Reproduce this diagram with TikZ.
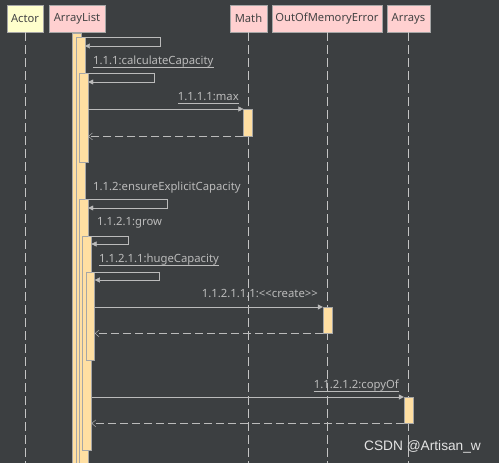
\documentclass[tikz,border=0pt]{standalone}
\usepackage{fontspec}
\setmainfont{Noto Sans}
\newfontfamily\markfont{Liberation Sans}
\usetikzlibrary{arrows.meta}
\definecolor{bgdark}{HTML}{3C3F41}
\definecolor{headpink}{HTML}{FFD0D0}
\definecolor{actoryellow}{HTML}{FFFFCC}
\definecolor{boxgray}{HTML}{A6A6A6}
\definecolor{headtext}{HTML}{444444}
\definecolor{barfill}{HTML}{FFDFA2}
\definecolor{lineclr}{HTML}{BBBBBB}
\definecolor{lifeclr}{HTML}{C4C4C4}
\definecolor{wmark}{HTML}{E4E4E4}

\begin{document}
\begin{tikzpicture}
 		[
 		x = 1pt, y = -1pt,
 		head/.style = {draw = boxgray, fill = headpink, text = headtext, minimum height = 27pt, inner sep = 0pt, font = \fontsize{11.2}{13}\selectfont},
 		life/.style = {draw = lifeclr, dash pattern = on 9pt off 4pt},
 		bar/.style = {draw = boxgray, fill = barfill, minimum width = 8.8pt, inner sep = 0pt, anchor = north},
 		call/.style = {draw = lineclr, -{Triangle[length = 5pt, width = 5pt]}},
 		back/.style = {draw = lineclr, dash pattern = on 8pt off 4pt, -{Straight Barb[length = 4pt, width = 7pt]}},
 		msg/.style = {text = lineclr, inner sep = 0pt, font = \fontsize{11.3}{13}\selectfont}
 		]
 		
 		\path [use as bounding box, fill = bgdark] (0,0) rectangle (499,463);
 		\clip (0,0) rectangle (499,463);
 		\coordinate (floor) at (0,475);
 		
 		\node [head, fill = actoryellow, minimum width = 36pt] (actor) at (25,18.5) {Actor};
 		\node [head, minimum width = 56pt] (arraylist) at (77,18.5) {ArrayList};
 		\node [head, minimum width = 37pt] (math) at (248.5,18.5) {Math};
 		\node [head, minimum width = 110pt] (oome) at (327,18.5) {OutOfMemoryError};
 		\node [head, minimum width = 43pt] (arrays) at (408.5,18.5) {Arrays};
 		
 		\draw [life] (actor) -- (actor |- floor);
 		\draw [life] (math) -- (math |- floor);
 		\draw [life] (oome) -- (oome |- floor);
 		\draw [life] (arrays) -- (arrays |- floor);
 		
 		\node [bar, minimum height = 450pt] (a1) at (77,33) {};
 		\node [bar, minimum height = 450pt] (a2) at (80.3,37) {};
 		\node [bar, minimum height = 89pt] (a3) at (83.6,73) {};
 		\node [bar, minimum height = 300pt] (a3b) at (83.6,199) {};
 		\node [bar, minimum height = 214pt] (a4) at (86.9,236) {};
 		\node [bar, minimum height = 88pt] (a5) at (90.2,272) {};
 		\node [bar, minimum height = 27pt] (m1) at (248,109) {};
 		\node [bar, minimum height = 26pt] (o1) at (327.5,307) {};
 		\node [bar, minimum height = 26pt] (r1) at (408.5,397) {};
 		
 		\coordinate (t1) at (160,46);
 		\draw [call] (a2.north -| a1.east) -| (t1) -- (t1 -| a2.east);
 		
 		\node [msg, anchor = base west] (l2) at (93,64) {1.1.1:calculateCapacity};
 		\draw [lineclr] ([yshift = -3pt]l2.base west) -- ([yshift = -3pt]l2.base east);
 		\coordinate (t2) at (154,82);
 		\draw [call] (a3.north -| a2.east) -| (t2) -- (t2 -| a3.east);
 		
 		\node [msg, anchor = base east] (l3) at (239,100) {1.1.1.1:max};
 		\draw [lineclr] ([yshift = -3pt]l3.base west) -- ([yshift = -3pt]l3.base east);
 		\draw [call] (m1.north west -| a3.east) -- (m1.north west);
 		\draw [back] (m1.south west) -- (m1.south west -| a3.east);
 		
 		\node [msg, anchor = base west] (l4) at (93,190) {1.1.2:ensureExplicitCapacity};
 		\coordinate (t4) at (167,208);
 		\draw [call] (a3b.north -| a2.east) -| (t4) -- (t4 -| a3b.east);
 		
 		\node [msg, anchor = base west] (l5) at (97,225) {1.1.2.1:grow};
 		\coordinate (t5) at (128,244);
 		\draw [call] (a4.north -| a3b.east) -| (t5) -- (t5 -| a4.east);
 		
 		\node [msg, anchor = base west] (l6) at (99,262) {1.1.2.1.1:hugeCapacity};
 		\draw [lineclr] ([yshift = -3pt]l6.base west) -- ([yshift = -3pt]l6.base east);
 		\coordinate (t6) at (159,280);
 		\draw [call] (a5.north -| a4.east) -| (t6) -- (t6 -| a5.east);
 		
 		\node [msg, anchor = base east] (l7) at (318,297.5) {1.1.2.1.1.1:{<}{<}create{>}{>}};
 		\draw [call] (o1.north west -| a5.east) -- (o1.north west);
 		\draw [back] (o1.south west) -- (o1.south west -| a5.east);
 		
 		\node [msg, anchor = base east] (l8) at (399,388.5) {1.1.2.1.2:copyOf};
 		\draw [lineclr] ([yshift = -3pt]l8.base west) -- ([yshift = -3pt]l8.base east);
 		\draw [call] (r1.north west -| a4.east) -- (r1.north west);
 		\draw [back] (r1.south west) -- (r1.south west -| a4.east);
 		
 		\node [anchor = base west, text = wmark, inner sep = 0pt, font = \markfont\fontsize{13.7}{15}\selectfont] (mark) at (364,450.5) {CSDN @Artisan\_w};
 		
 		\end{tikzpicture}
\end{document}
